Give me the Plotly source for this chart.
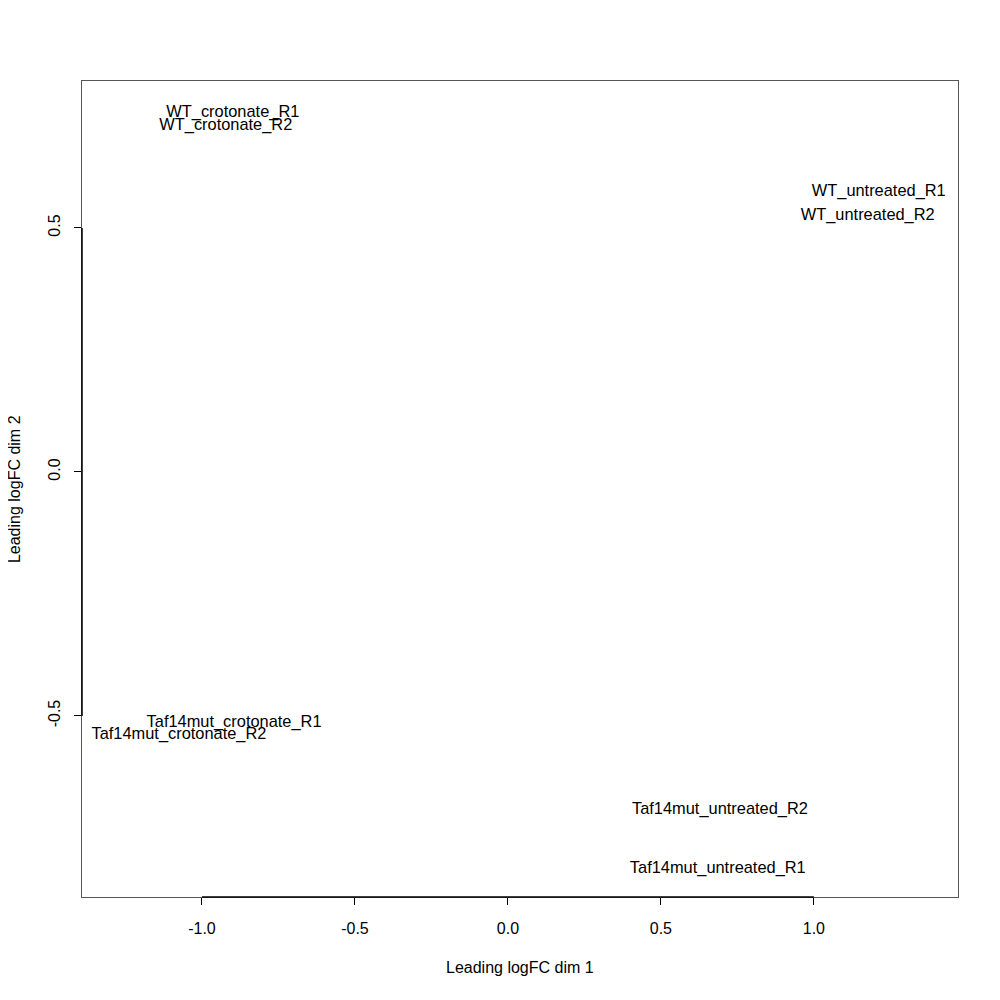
import plotly.graph_objects as go

samples = ["WT_crotonate_R1", "WT_crotonate_R2", "WT_untreated_R1", "WT_untreated_R2",
           "Taf14mut_crotonate_R1", "Taf14mut_crotonate_R2",
           "Taf14mut_untreated_R2", "Taf14mut_untreated_R1"]
dim1 = [-0.899, -0.922, 1.212, 1.176, -0.895, -1.075, 0.693, 0.686]
dim2 = [0.736, 0.709, 0.574, 0.525, -0.514, -0.539, -0.693, -0.813]

xticks = [-1.0, -0.5, 0.0, 0.5, 1.0]
yticks = [-0.5, 0.0, 0.5]
xrange_ = [-1.392, 1.471]
yrange_ = [-0.871, 0.801]

FONT = "Liberation Sans, Arial, sans-serif"

fig = go.Figure()
fig.add_trace(go.Scatter(
    x=dim1, y=dim2, mode="text", text=samples,
    textposition="middle center",
    textfont=dict(family=FONT, size=16.4, color="black"),
    showlegend=False, hoverinfo="text"))

axis_common = dict(showgrid=False, zeroline=False, showline=True, mirror=True,
                   linecolor="#555555", linewidth=1, ticks="outside", ticklen=7,
                   tickcolor="black", tickwidth=1,
                   tickfont=dict(family=FONT, size=16, color="black"))

fig.update_xaxes(range=xrange_, tickvals=xticks, ticklabelstandoff=10,
                 ticktext=[f"{v:.1f}" for v in xticks], **axis_common)
fig.update_yaxes(range=yrange_, tickvals=yticks, tickangle=-90, ticklabelstandoff=8,
                 ticktext=[f"{v:.1f}" for v in yticks], **axis_common)

# R-style axis lines spanning first to last tick
fig.add_shape(type="line", xref="x", yref="y domain", x0=min(xticks), x1=max(xticks),
              y0=0, y1=0, line=dict(color="black", width=1.5))
fig.add_shape(type="line", xref="x domain", yref="y", x0=0, x1=0,
              y0=min(yticks), y1=max(yticks), line=dict(color="black", width=1.5))

fig.add_annotation(text="Leading logFC dim 1", xref="paper", yref="paper",
                   x=0.5, y=-0.087, showarrow=False, xanchor="center", yanchor="middle",
                   font=dict(family=FONT, size=16, color="black"))
fig.add_annotation(text="Leading logFC dim 2", xref="paper", yref="paper",
                   x=-0.0775, y=0.5, showarrow=False, xanchor="center", yanchor="middle",
                   textangle=-90, font=dict(family=FONT, size=16, color="black"))

fig.update_layout(width=1000, height=1000, plot_bgcolor="white", paper_bgcolor="white",
                  margin=dict(l=74, r=50, t=73, b=111))

fig.write_html("out.html")
